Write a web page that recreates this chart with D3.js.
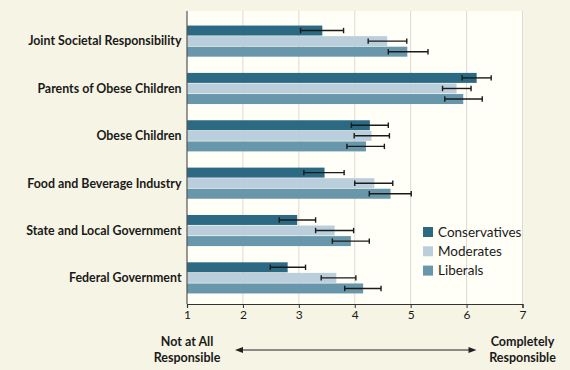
<!DOCTYPE html>
<html><head><meta charset="utf-8">
<script src="https://cdn.jsdelivr.net/npm/d3@7"></script>
<style>
html,body{margin:0;padding:0;background:#f6f4e4;}
svg{display:block;}
text{font-family:Lato,"Open Sans",sans-serif;}
</style></head>
<body>
<script>
const categories = ["Joint Societal Responsibility","Parents of Obese Children","Obese Children","Food and Beverage Industry","State and Local Government","Federal Government"];
const seriesNames = ["Conservatives","Moderates","Liberals"];
const conservatives = [3.42, 6.18, 4.27, 3.46, 2.97, 2.80];
const moderates     = [4.58, 5.82, 4.30, 4.35, 3.64, 3.67];
const liberals      = [4.94, 5.94, 4.20, 4.64, 3.93, 4.15];
const consLow  = [3.03, 5.92, 3.94, 3.09, 2.65, 2.49];
const consHigh = [3.80, 6.44, 4.60, 3.81, 3.30, 3.12];
const modLow   = [4.24, 5.57, 3.99, 4.00, 3.30, 3.40];
const modHigh  = [4.93, 6.08, 4.62, 4.68, 3.98, 4.02];
const libLow   = [4.60, 5.61, 3.86, 4.26, 3.60, 3.82];
const libHigh  = [5.31, 6.28, 4.53, 5.01, 4.26, 4.47];
const xTicks = [1,2,3,4,5,6,7];
const leftLabel = ["Not at All","Responsible"];
const rightLabel = ["Completely","Responsible"];
const colors = ["#2b6a82","#bacfdb","#6896aa"];

const W = 570, H = 370;
const svg = d3.select("body").append("svg").attr("width",W).attr("height",H);
const plot = {left:187, right:522.5, top:11, bottom:304};

svg.append("rect").attr("x",plot.left).attr("y",plot.top)
  .attr("width",plot.right-plot.left).attr("height",plot.bottom-plot.top)
  .attr("fill","#fffef7");

const x = d3.scaleLinear().domain([1,7]).range([plot.left, plot.right]);
const y = d3.scaleBand().domain(categories).range([12, 307]).paddingInner(0.33).paddingOuter(0.28);
const yIn = d3.scaleBand().domain(seriesNames).range([0, y.bandwidth()]);

// gridlines
svg.append("g").selectAll("line").data(xTicks.slice(1)).join("line")
  .attr("x1",d=>x(d)).attr("x2",d=>x(d)).attr("y1",plot.top).attr("y2",plot.bottom)
  .attr("stroke","#dcdad2").attr("stroke-width",1);

const vals = [conservatives, moderates, liberals];
const lows = [consLow, modLow, libLow];
const highs = [consHigh, modHigh, libHigh];
const rows = [];
categories.forEach((c,i)=>seriesNames.forEach((s,j)=>rows.push({c,s,j,v:vals[j][i],lo:lows[j][i],hi:highs[j][i]})));

const g = svg.append("g");
g.selectAll("rect").data(rows).join("rect")
  .attr("x",x(1)).attr("y",d=>y(d.c)+yIn(d.s)+0.3)
  .attr("width",d=>x(d.v)-x(1)).attr("height",yIn.bandwidth()-0.6)
  .attr("fill",d=>colors[d.j]);

const eb = svg.append("g").attr("stroke","#1a1a1a").attr("stroke-width",1.4);
rows.forEach(d=>{
  const cy = y(d.c)+yIn(d.s)+yIn.bandwidth()/2;
  eb.append("line").attr("x1",x(d.lo)).attr("x2",x(d.hi)).attr("y1",cy).attr("y2",cy);
  eb.append("line").attr("x1",x(d.lo)).attr("x2",x(d.lo)).attr("y1",cy-2.7).attr("y2",cy+2.7);
  eb.append("line").attr("x1",x(d.hi)).attr("x2",x(d.hi)).attr("y1",cy-2.7).attr("y2",cy+2.7);
});

// left axis line
svg.append("line").attr("x1",plot.left).attr("x2",plot.left).attr("y1",plot.top).attr("y2",plot.bottom)
  .attr("stroke","#555").attr("stroke-width",1.2);

// category labels
svg.append("g").selectAll("text").data(categories).join("text")
  .attr("x",181.5).attr("y",d=>y(d)+y.bandwidth()/2).attr("dy","0.35em")
  .attr("text-anchor","end").attr("font-size",12.4).attr("font-weight",700).attr("fill","#1a1a1a")
  .text(d=>d);

// x axis
const xAxis = svg.append("g").attr("transform",`translate(0,${plot.bottom})`)
  .call(d3.axisBottom(x).tickValues(xTicks).tickFormat(d3.format("d")).tickSizeOuter(0).tickSize(4).tickPadding(2));
xAxis.select(".domain").attr("stroke","#333").attr("stroke-width",1.2);
xAxis.selectAll(".tick line").attr("stroke","#333");
xAxis.selectAll("text").attr("font-size",12).attr("fill","#1a1a1a").attr("font-family","Lato,sans-serif");

// legend
const lg = svg.append("g").attr("transform","translate(423,227)");
seriesNames.forEach((s,i)=>{
  lg.append("rect").attr("x",0).attr("y",i*19.3).attr("width",10).attr("height",10).attr("fill",colors[i]);
  lg.append("text").attr("x",15).attr("y",i*19.3+5).attr("dy","0.35em").attr("font-size",13.5).attr("fill","#1a1a1a").text(s);
});

// bottom labels
function twoLine(lines, cx){
  const t = svg.append("text").attr("text-anchor","middle").attr("font-size",12.5).attr("font-weight",700).attr("fill","#1a1a1a");
  lines.forEach((l,i)=>t.append("tspan").attr("x",cx).attr("y",346+i*16).text(l));
}
twoLine(leftLabel, x(1));
twoLine(rightLabel, x(7));

// arrow
const ay = 350;
svg.append("line").attr("x1",x(1)+52).attr("x2",x(7)-50).attr("y1",ay).attr("y2",ay).attr("stroke","#222").attr("stroke-width",1);
svg.append("path").attr("d",`M${x(1)+48},${ay} l8,-3 l0,6 z`).attr("fill","#222");
svg.append("path").attr("d",`M${x(7)-46},${ay} l-8,-3 l0,6 z`).attr("fill","#222");
</script>
</body></html>
